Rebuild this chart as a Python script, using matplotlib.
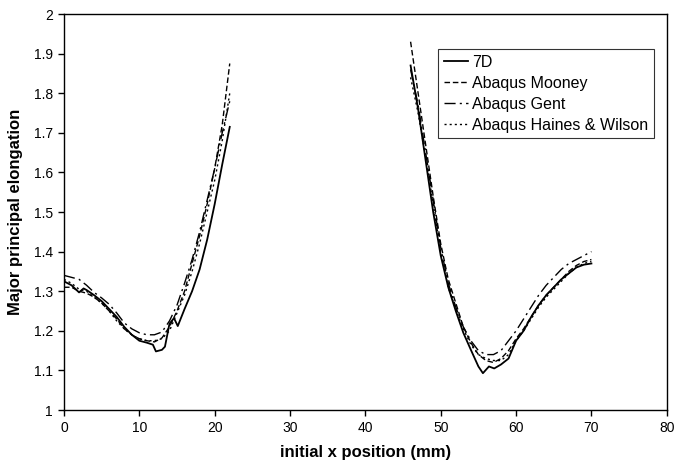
import numpy as np
import matplotlib
matplotlib.use("Agg")
import matplotlib.pyplot as plt

plt.rcParams["font.family"] = ["Liberation Sans", "DejaVu Sans"]

# left branch (x in mm)
x_left = [0, 1, 2, 2.6, 3, 4, 5, 6, 7, 8, 9, 10, 11, 11.8, 12.2, 13, 13.4,
          14, 14.6, 15.1, 16, 17, 18, 19, 20, 21, 22]
d7_left = [1.325, 1.315, 1.297, 1.307, 1.303, 1.29, 1.275, 1.255, 1.235, 1.21,
           1.19, 1.175, 1.17, 1.165, 1.148, 1.152, 1.16, 1.218, 1.232, 1.212,
           1.255, 1.30, 1.355, 1.43, 1.52, 1.62, 1.715]

xa_left = [0, 1, 2, 3, 4, 5, 6, 7, 8, 9, 10, 11, 12, 13, 14, 15, 16, 17, 18,
           19, 20, 21, 22]
mooney_left = [1.31, 1.31, 1.30, 1.295, 1.285, 1.27, 1.25, 1.23, 1.205, 1.19,
               1.18, 1.175, 1.172, 1.182, 1.21, 1.25, 1.30, 1.37, 1.44, 1.52,
               1.61, 1.72, 1.875]
gent_left = [1.34, 1.335, 1.33, 1.315, 1.297, 1.283, 1.267, 1.245, 1.22, 1.205,
             1.195, 1.19, 1.19, 1.197, 1.225, 1.265, 1.32, 1.38, 1.45, 1.53,
             1.61, 1.70, 1.78]
haines_left = [1.33, 1.32, 1.305, 1.30, 1.285, 1.27, 1.25, 1.225, 1.205, 1.19,
               1.18, 1.175, 1.175, 1.18, 1.20, 1.245, 1.29, 1.35, 1.42, 1.50,
               1.58, 1.68, 1.80]

# right branch
x_right = [46, 47, 48, 49, 50, 51, 52, 53, 54, 55, 55.6, 56.4, 57.1, 58, 59,
           60, 61, 62, 63, 64, 65, 66, 67, 68, 69, 70]
d7_right = [1.87, 1.76, 1.63, 1.50, 1.39, 1.31, 1.25, 1.195, 1.152, 1.11,
            1.093, 1.11, 1.105, 1.115, 1.13, 1.175, 1.20, 1.235, 1.265, 1.29,
            1.31, 1.33, 1.345, 1.36, 1.367, 1.37]

xa_right = [46, 47, 48, 49, 50, 51, 52, 53, 54, 55, 56, 57, 58, 59, 60, 61,
            62, 63, 64, 65, 66, 67, 68, 69, 70]
mooney_right = [1.93, 1.80, 1.67, 1.54, 1.42, 1.33, 1.27, 1.21, 1.17, 1.14,
                1.125, 1.12, 1.13, 1.15, 1.18, 1.205, 1.235, 1.265, 1.29, 1.31,
                1.33, 1.35, 1.365, 1.375, 1.38]
gent_right = [1.86, 1.77, 1.65, 1.53, 1.41, 1.32, 1.26, 1.21, 1.175, 1.15,
              1.14, 1.14, 1.15, 1.175, 1.20, 1.23, 1.26, 1.29, 1.315, 1.335,
              1.355, 1.37, 1.38, 1.39, 1.40]
haines_right = [1.84, 1.75, 1.64, 1.52, 1.40, 1.31, 1.255, 1.205, 1.165, 1.14,
                1.13, 1.125, 1.125, 1.14, 1.175, 1.20, 1.23, 1.26, 1.285, 1.305,
                1.325, 1.345, 1.36, 1.37, 1.375]


def join(a, b):
    # NaN between the two branches so the line breaks
    return np.concatenate([a, [np.nan], b])


x7 = join(x_left, x_right)
xa = join(xa_left, xa_right)

fig = plt.figure(figsize=(6.75, 4.67), dpi=100)
ax = fig.add_axes([0.0948, 0.122, 0.893, 0.848])

ax.plot(x7, join(d7_left, d7_right), color="black", lw=1.3, ls="-", label="7D")
ax.plot(xa, join(mooney_left, mooney_right), color="black", lw=1.0,
        ls=(0, (4, 2)), label="Abaqus Mooney")
ax.plot(xa, join(gent_left, gent_right), color="black", lw=1.0,
        ls=(0, (8, 3, 1.5, 3)), label="Abaqus Gent")
ax.plot(xa, join(haines_left, haines_right), color="black", lw=1.0,
        ls=(0, (1.5, 2.2)), label="Abaqus Haines & Wilson")

ax.set_xlim(0, 80)
ax.set_ylim(1, 2)
ax.set_xticks(np.arange(0, 81, 10))
ax.set_yticks(np.arange(1, 2.01, 0.1))
ax.set_yticklabels(["1", "1.1", "1.2", "1.3", "1.4", "1.5", "1.6", "1.7",
                    "1.8", "1.9", "2"])
ax.tick_params(direction="out", length=4, width=1, labelsize=10, pad=4)
for s in ax.spines.values():
    s.set_linewidth(1.0)

ax.set_xlabel("initial x position (mm)", fontsize=12, fontweight="bold",
              labelpad=7)
ax.set_ylabel("Major principal elongation", fontsize=12, fontweight="bold",
              labelpad=8)

leg = ax.legend(loc="upper left", bbox_to_anchor=(438 / 675, 1 - 49 / 467),
                bbox_transform=fig.transFigure, fontsize=11.5, frameon=True,
                fancybox=False, handlelength=1.5, handletextpad=0.3,
                borderpad=0.35, labelspacing=0.38, borderaxespad=0)
leg.get_frame().set_edgecolor("black")
leg.get_frame().set_linewidth(0.8)

fig.savefig("out.png", dpi=100)
